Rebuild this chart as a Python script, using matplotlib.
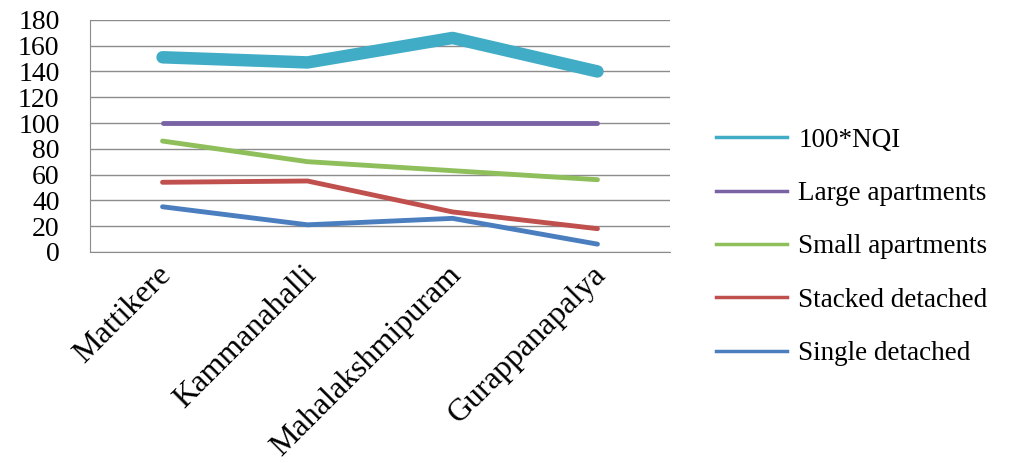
import numpy as np
import matplotlib
matplotlib.use('Agg')
import matplotlib.pyplot as plt
from matplotlib.transforms import ScaledTranslation

plt.rcParams['font.family'] = ['Liberation Serif', 'DejaVu Serif']

neighbourhoods = ['Mattikere', 'Kammanahalli', 'Mahalakshmipuram', 'Gurappanapalya']
nqi_x100 = [151, 147, 166, 140]
large_apartments = [100, 100, 100, 100]
small_apartments = [86, 70, 63, 56]
stacked_detached = [54, 55, 31, 18]
single_detached = [35, 21, 26, 6]

series = [
    ('100*NQI', nqi_x100, '#41acc6', 9),
    ('Large apartments', large_apartments, '#7a63a5', 3.5),
    ('Small apartments', small_apartments, '#8fbf5a', 3.5),
    ('Stacked detached', stacked_detached, '#c0504d', 3.5),
    ('Single detached', single_detached, '#4a7ebf', 3.5),
]

fig = plt.figure(figsize=(10.12, 4.63), dpi=100)
ax = fig.add_axes([0.089, 0.456, 0.573, 0.501])

x = np.arange(len(neighbourhoods))
for name, vals, col, lw in series:
    ax.plot(x, vals, color=col, lw=lw, solid_capstyle='round', solid_joinstyle='round', label=name)

ax.set_xlim(-0.5, len(neighbourhoods) - 0.5)
ax.set_ylim(0, 180)
ax.set_yticks(range(0, 181, 20))
ax.yaxis.grid(True, color='#8c8c8c', lw=1)
ax.set_axisbelow(True)
for s in ['top', 'right']:
    ax.spines[s].set_visible(False)
ax.spines['left'].set_color('#8c8c8c')
ax.spines['bottom'].set_color('#8c8c8c')
ax.tick_params(axis='y', length=0, labelsize=20, pad=22)
ax.tick_params(axis='x', length=0, labelsize=23, pad=6)
ax.set_xticks(x)
ax.set_xticklabels(neighbourhoods, rotation=45, ha='right', va='top', rotation_mode='anchor')
shift = ScaledTranslation(-6 / 100, 0, fig.dpi_scale_trans)
for lab in ax.get_xticklabels():
    lab.set_transform(lab.get_transform() + shift)

# legend with thin lines
leg_lines = [plt.Line2D([], [], color=c, lw=2.5) for _, _, c, _ in series]
fig.legend(leg_lines, [s[0] for s in series], loc='upper left', bbox_to_anchor=(0.683, 0.777),
           frameon=False, fontsize=19.5, handlelength=2.65, handletextpad=0.4, labelspacing=1.05)

fig.savefig('out.png', dpi=100)
